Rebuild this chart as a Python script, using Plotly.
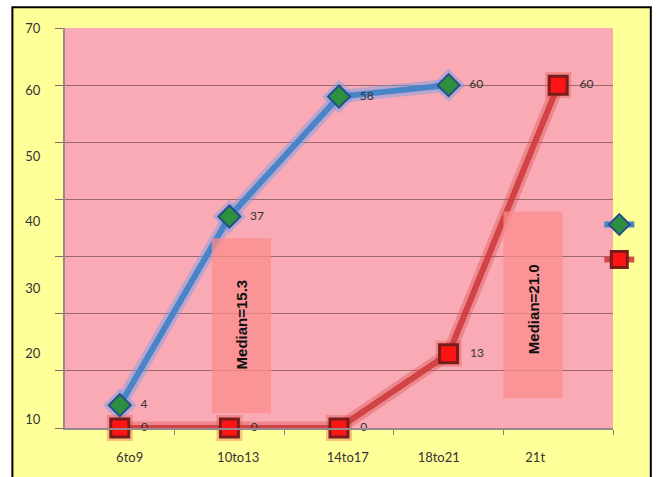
import plotly.graph_objects as go

# ---- data ----
categories = ["6to9", "10to13", "14to17", "18to21", "21t"]
series_a = [4, 37, 58, 60]          # blue / green diamonds
series_b = [0, 0, 0, 13, 60]        # red squares
y_tick_text = ["70", "60", "50", "40", "30", "20", "10"]
median_texts = ["Median=15.3", "Median=21.0"]

# ---- layout helpers (positions, not data) ----
y_tick_pos = [69.95, 59.1, 47.6, 36.2, 24.4, 13.0, 1.5]
x_tick_pos = [0.09, 1.08, 2.08, 2.91, 3.79]
xa = list(range(len(series_a)))
xb = list(range(len(series_b)))
PAD = "\u2002\u00a0"

FONT = "Lato, 'Liberation Sans', sans-serif"

fig = go.Figure()

# glow layers
fig.add_trace(go.Scatter(x=xa, y=series_a, mode="lines+markers",
                         line=dict(color="rgba(110,160,235,0.45)", width=13),
                         marker=dict(symbol="diamond", size=26, color="rgba(110,160,235,0.45)"),
                         showlegend=False, hoverinfo="skip", cliponaxis=False))
fig.add_trace(go.Scatter(x=xb, y=series_b, mode="lines+markers",
                         line=dict(color="rgba(215,70,70,0.35)", width=13),
                         marker=dict(symbol="square", size=26, color="rgba(225,80,70,0.35)"),
                         showlegend=False, hoverinfo="skip", cliponaxis=False))

# main series
fig.add_trace(go.Scatter(x=xa, y=series_a, mode="lines+markers+text",
                         name=" ", legendgroup="a",
                         line=dict(color="#4A84C8", width=6),
                         marker=dict(symbol="diamond", size=17, color="#2E8F3E",
                                     line=dict(color="#234E8C", width=2)),
                         text=[PAD + str(v) for v in series_a], textposition="middle right",
                         textfont=dict(family=FONT, size=12, color="#333333"),
                         cliponaxis=False))
fig.add_trace(go.Scatter(x=xb, y=series_b, mode="lines+markers+text",
                         name=" ", legendgroup="b",
                         line=dict(color="rgba(205,60,60,0.9)", width=6),
                         marker=dict(symbol="square", size=18, color="#FF1414",
                                     line=dict(color="#7A1C1C", width=3)),
                         text=[PAD + str(v) for v in series_b], textposition="middle right",
                         textfont=dict(family=FONT, size=12, color="#333333"),
                         cliponaxis=False))

shapes = [
    # yellow frame with black border (outside plot)
    dict(type="rect", xref="paper", yref="paper", x0=-0.096, x1=1.069, y0=-0.2, y1=1.052,
         fillcolor="#FFFF99", line=dict(color="black", width=2), layer="below"),
    # pink plot area
    dict(type="rect", xref="paper", yref="paper", x0=0, x1=1, y0=0, y1=1,
         fillcolor="#F9AAB4", line=dict(width=0), layer="below"),
    # median boxes
    dict(type="rect", xref="x", yref="y", x0=0.84, x1=1.38, y0=2.6, y1=33.2,
         fillcolor="rgba(250,140,140,0.75)", line=dict(width=0), layer="above"),
    dict(type="rect", xref="x", yref="y", x0=3.5, x1=4.04, y0=5.2, y1=37.9,
         fillcolor="rgba(250,140,140,0.75)", line=dict(width=0), layer="above"),
]

annotations = [
    dict(x=1.11, y=18.2, xref="x", yref="y", text="<b>%s</b>" % median_texts[0],
         textangle=-90, showarrow=False, font=dict(family="Liberation Sans", size=15, color="#111111")),
    dict(x=3.77, y=20.8, xref="x", yref="y", text="<b>%s</b>" % median_texts[1],
         textangle=-90, showarrow=False, font=dict(family="Liberation Sans", size=15, color="#111111")),
]

fig.update_layout(
    width=660, height=477,
    margin=dict(l=65, r=43, t=28, b=45),
    paper_bgcolor="white",
    plot_bgcolor="#F9AAB4",
    shapes=shapes,
    annotations=annotations,
    font=dict(family=FONT, size=13, color="#333333"),
    legend=dict(x=0.975, y=0.545, xanchor="left", yanchor="top",
                bgcolor="rgba(0,0,0,0)", tracegroupgap=16,
                font=dict(size=12), itemwidth=30),
    xaxis=dict(range=[-0.5, 4.5], showgrid=False, zeroline=False,
               showline=True, linecolor="#9A8890", linewidth=2,
               tickmode="array", tickvals=x_tick_pos, ticktext=categories,
               ticks="", ticklabelstandoff=16,
               minor=dict(tickmode="array", tickvals=[0.5, 1.5, 2.5, 3.5, 4.5],
                          ticks="outside", ticklen=5, tickcolor="#8A7A80", tickwidth=1,
                          showgrid=False)),
    yaxis=dict(range=[0, 70], showgrid=False, zeroline=False,
               showline=True, linecolor="#9A8890", linewidth=2,
               tickmode="array", tickvals=y_tick_pos, ticktext=y_tick_text,
               ticks="", ticklabelstandoff=20,
               minor=dict(tick0=0, dtick=10, ticks="outside", ticklen=8,
                          tickcolor="#8A6A6A", tickwidth=1,
                          showgrid=True, gridcolor="#9A6A6A", gridwidth=1)),
)

fig.write_html("out.html")
